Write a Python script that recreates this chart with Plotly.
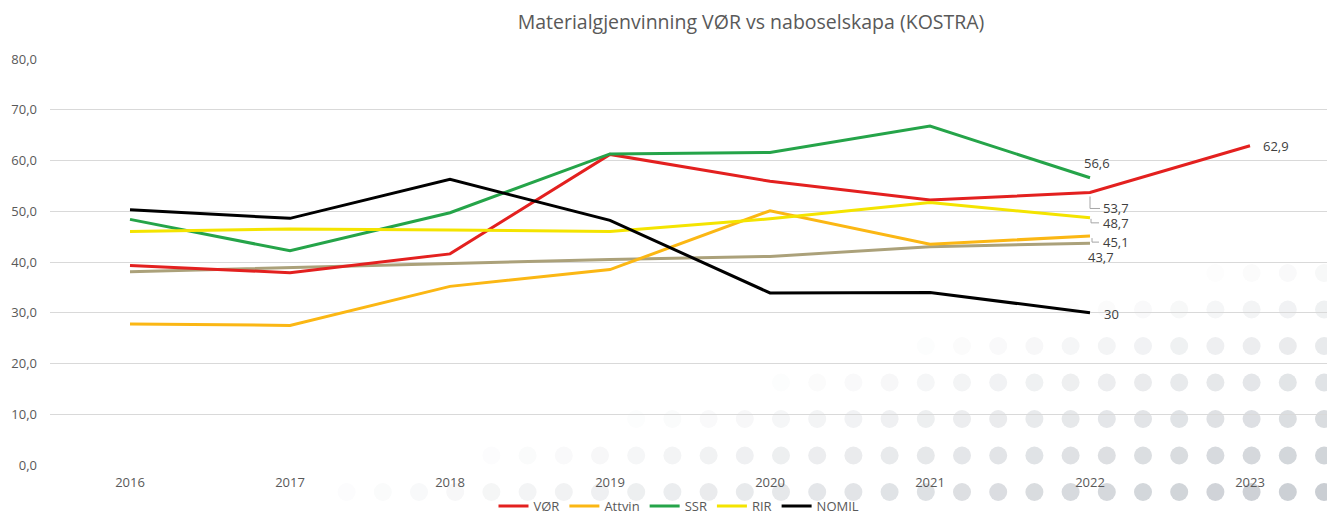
import numpy as np
import plotly.graph_objects as go

years = ["2016", "2017", "2018", "2019", "2020", "2021", "2022", "2023"]
vor = [39.3, 37.9, 41.6, 61.2, 55.9, 52.2, 53.7, 62.9]
attvin = [27.8, 27.5, 35.2, 38.5, 50.1, 43.5, 45.1, None]
ssr = [48.4, 42.2, 49.7, 61.3, 61.6, 66.8, 56.6, None]
rir = [46.0, 46.5, 46.3, 46.0, 48.5, 51.7, 48.7, None]
nomil = [50.3, 48.6, 56.3, 48.2, 33.9, 34.0, 30.0, None]
snitt = [38.1, 38.9, 39.8, 40.5, 41.1, 43.0, 43.7, None]

# The page body has an 8px margin, so the figure is laid out 8px up/left.
OFF = 8
W, H = 1335 - OFF, 515 - OFF
ML, MR, MT, MB = 50 - OFF, 5, 59 - OFF, 50
PW, PH = W - ML - MR, H - MT - MB

FONT = "Open Sans"
GREY = "#595959"

fig = go.Figure()

series = [
    ("Snitt", snitt, "#ABA17A", False),
    ("VØR", vor, "#E3201F", True),
    ("Attvin", attvin, "#FBB714", True),
    ("SSR", ssr, "#25A449", True),
    ("RIR", rir, "#F4E400", True),
    ("NOMIL", nomil, "#000000", True),
]
for name, vals, col, show in series:
    fig.add_trace(go.Scatter(x=years, y=vals, name=name, mode="lines",
                             line=dict(color=col, width=3),
                             showlegend=show, connectgaps=False))

i22 = years.index("2022")
i23 = years.index("2023")
# data labels: (category index, value, text, xshift, yshift)
labels = [
    (i22, ssr[i22], "56,6", 7, 15),
    (i22, vor[i22], "53,7", 26, -16),
    (i22, rir[i22], "48,7", 26, -5),
    (i22, attvin[i22], "45,1", 26, -6),
    (i22, snitt[i22], "43,7", 11, -14),
    (i22, nomil[i22], "30", 21, -1),
    (i23, vor[i23], "62,9", 26, 0),
]
for xv, yv, txt, xs, ys in labels:
    fig.add_annotation(x=xv, y=yv, xref="x", yref="y", text=txt, showarrow=False,
                       xshift=xs, yshift=ys, borderpad=0,
                       font=dict(family=FONT, size=13, color="#404040"))

# leader lines (pixel offsets relative to the data point)
leaders = [
    (vor[i22], "M 0,-4 L 0,-16 L 10,-16"),
    (rir[i22], "M 1,-1 L 1,-5 L 9,-5"),
    (attvin[i22], "M 2,-2 L 2,-6 L 9,-6"),
]
for yv, path in leaders:
    fig.add_shape(type="path", xref="x", yref="y", xsizemode="pixel", ysizemode="pixel",
                  xanchor=i22, yanchor=yv, path=path,
                  line=dict(color="#A6A6A6", width=1))

# decorative dotted background (bottom right), positions in reference pixels
xs_px = 1324 - 36.2 * np.arange(0, 30)
ys_px = 492 - 36.5 * np.arange(0, 7)
r = 9
for yp in ys_px:
    for xp in xs_px:
        u = xp + 4.0 * yp
        t = (u - 2260) / (3292 - 2260)
        if t <= 0.02:
            continue
        t = min(t, 1.0)
        base = np.array([255, 255, 255])
        dark = np.array([202, 206, 211])
        c = base + (dark - base) * t
        col = "rgb(%d,%d,%d)" % tuple(np.round(c).astype(int))
        fx, fy = xp - OFF, yp - OFF
        fig.add_shape(type="circle", xref="paper", yref="paper",
                      x0=(fx - r - ML) / PW, x1=(fx + r - ML) / PW,
                      y0=(H - MB - (fy + r)) / PH, y1=(H - MB - (fy - r)) / PH,
                      fillcolor=col, line=dict(width=0), layer="below")

fig.update_layout(
    width=W, height=H,
    margin=dict(l=ML, r=MR, t=MT, b=MB, autoexpand=False),
    paper_bgcolor="white",
    plot_bgcolor="rgba(0,0,0,0)",
    separators=", ",
    font=dict(family=FONT, size=13, color=GREY),
    title=dict(text="Materialgjenvinning VØR vs naboselskapa (KOSTRA)",
               x=(751 - OFF - ML) / PW, xref="paper", xanchor="center",
               y=1 - (22 - OFF) / H, yref="container", yanchor="middle",
               font=dict(family=FONT, size=19.5, color=GREY)),
    legend=dict(orientation="h", x=(679 - OFF - ML) / PW, xanchor="center",
                y=-(506 - OFF - (H - MB)) / PH,
                yanchor="middle", font=dict(family=FONT, size=13, color=GREY),
                bgcolor="rgba(0,0,0,0)", traceorder="normal", borderwidth=0,
                tracegroupgap=0),
    showlegend=True,
)
fig.update_xaxes(type="category", categoryorder="array", categoryarray=years,
                 range=[-0.5, len(years) - 0.5], autorange=False,
                 showgrid=False, zeroline=False, showline=False,
                 ticks="", tickfont=dict(family=FONT, size=13, color=GREY),
                 ticklabelstandoff=8)
fig.update_yaxes(range=[0, 80], autorange=False, dtick=10, tickformat=".1f", showgrid=True,
                 gridcolor="#D9D9D9", gridwidth=1, zeroline=False, showline=False,
                 ticks="", tickfont=dict(family=FONT, size=13, color=GREY),
                 ticklabelstandoff=12)

fig.write_html("out.html")
